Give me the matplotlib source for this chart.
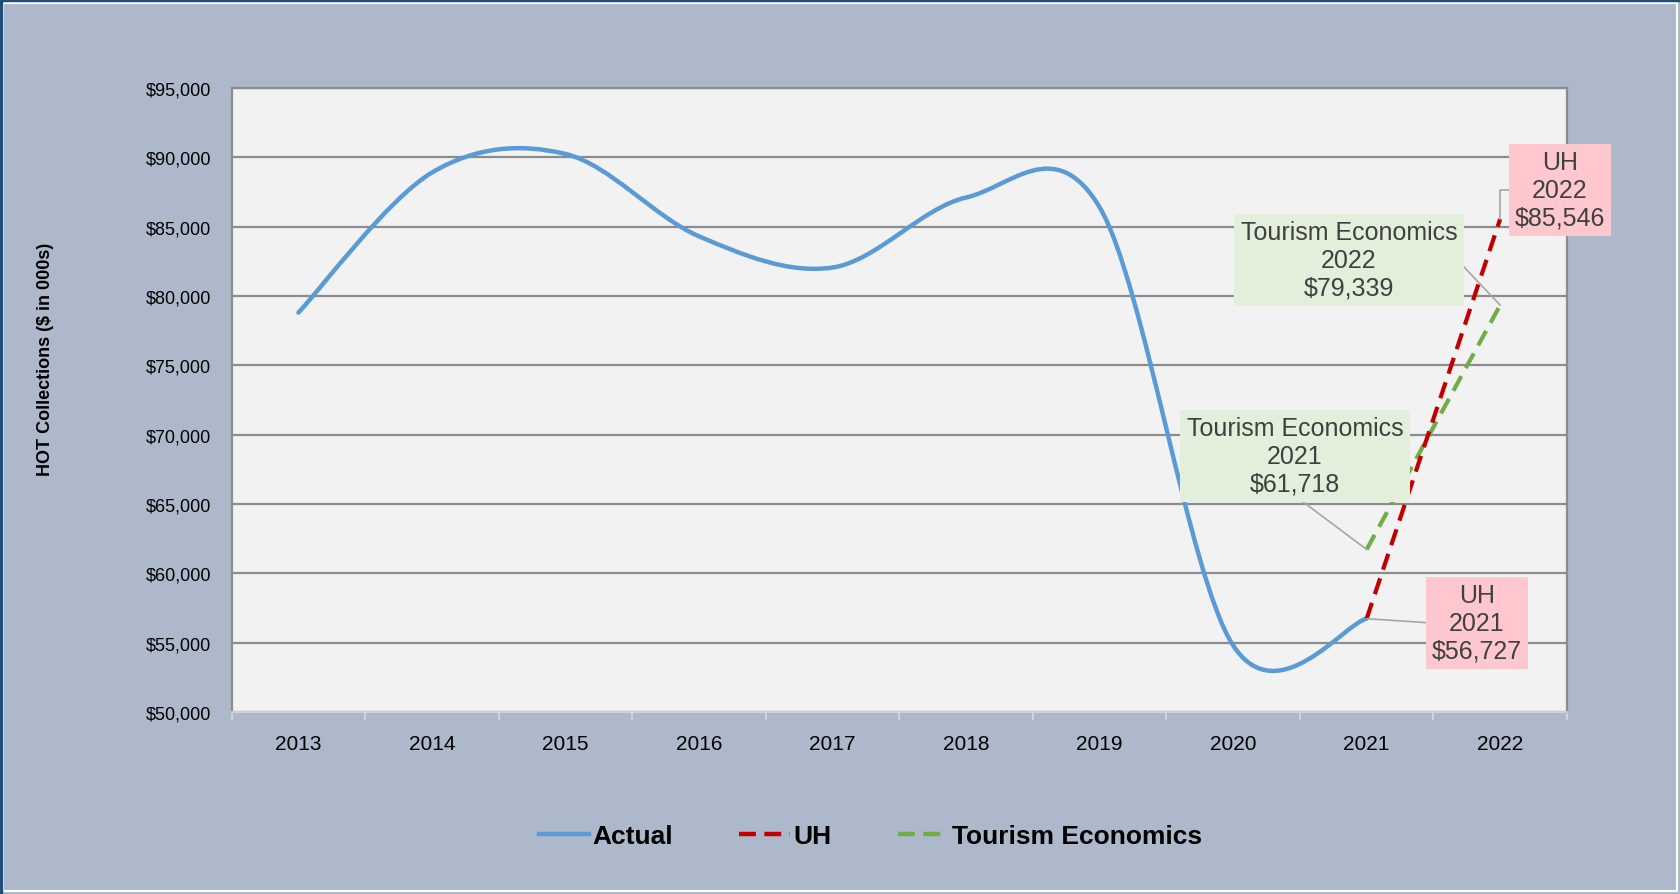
import matplotlib
matplotlib.use("Agg")
import matplotlib.pyplot as plt
from matplotlib.path import Path
from matplotlib.patches import PathPatch, Rectangle
from matplotlib.lines import Line2D

plt.rcParams["font.family"] = ["Liberation Sans", "DejaVu Sans"]

# data ($ in 000s)
years = ["2013", "2014", "2015", "2016", "2017", "2018", "2019", "2020", "2021", "2022"]
actual = [78800, 88900, 90240, 84300, 82050, 87100, 86400, 54800, 56727]
uh = [56727, 85546]
te = [61718, 79339]
forecast_years = [8, 9]  # index of 2021, 2022

BLUE = "#5B9BD5"
RED = "#C00000"
GREEN = "#70AD47"
BG = "#ADB9CA"


def smooth_path(xs, ys):
    """Excel-like smoothed line: cubic bezier segments through every point."""
    n = len(xs)
    verts = [(xs[0], ys[0])]
    codes = [Path.MOVETO]
    for i in range(n - 1):
        x0, y0 = xs[max(i - 1, 0)], ys[max(i - 1, 0)]
        x1, y1 = xs[i], ys[i]
        x2, y2 = xs[i + 1], ys[i + 1]
        x3, y3 = xs[min(i + 2, n - 1)], ys[min(i + 2, n - 1)]
        c1 = (x1 + (x2 - x0) / 6, y1 + (y2 - y0) / 6)
        c2 = (x2 - (x3 - x1) / 6, y2 - (y3 - y1) / 6)
        verts += [c1, c2, (x2, y2)]
        codes += [Path.CURVE4] * 3
    return Path(verts, codes)


fig = plt.figure(figsize=(16.8, 8.95), dpi=100, facecolor=BG)
ax = fig.add_axes([0.1379, 0.2034, 0.7948, 0.6972])
ax.set_facecolor("#F2F2F2")

# actual series (smoothed)
xs = list(range(len(actual)))
patch = PathPatch(smooth_path(xs, actual), fill=False, edgecolor=BLUE, lw=3.2,
                  capstyle="round", joinstyle="round", zorder=3)
ax.add_patch(patch)

# forecasts
ax.plot(forecast_years, te, color=GREEN, lw=3.0, dashes=(4, 2.2), zorder=4)
ax.plot(forecast_years, uh, color=RED, lw=3.0, dashes=(4, 2.2), zorder=4)

ax.set_xlim(-0.5, len(years) - 0.5)
ax.set_ylim(50000, 95000)
ax.set_yticks(range(50000, 95001, 5000))
ax.set_yticklabels([f"${v:,}" for v in range(50000, 95001, 5000)])
ax.set_xticks(range(len(years)))
ax.set_xticklabels(years)
ax.set_xticks([i - 0.5 for i in range(len(years) + 1)], minor=True)
ax.tick_params(axis="x", which="major", length=0, pad=16, labelsize=15)
ax.tick_params(axis="x", which="minor", length=6, width=1.2, color="#D9D9D9",
               direction="out")
ax.tick_params(axis="y", length=0, pad=15, labelsize=13)
ax.grid(axis="y", color="#8C8C8C", lw=1.6, zorder=1)
ax.set_axisbelow(True)
for side in ["left", "right", "top"]:
    ax.spines[side].set_color("#8C8C8C")
    ax.spines[side].set_linewidth(1.6)
ax.spines["bottom"].set_color("#D9D9D9")
ax.spines["bottom"].set_linewidth(1.2)

fig.text(0.0268, 0.598, "HOT Collections ($ in 000s)", rotation=90, ha="center",
         va="center", fontsize=13, fontweight="bold")

# data call-outs
labels = [
    (f"UH\n2022\n${uh[1]:,}", (9, uh[1]), (1560, 704), "#FFC7CE", (0, 0.5),
     "angle,angleA=0,angleB=90,rad=0"),
    (f"Tourism Economics\n2022\n${te[1]:,}", (9, te[1]), (1349, 634), "#E2EFDA", (1, 0.5),
     "arc3"),
    (f"Tourism Economics\n2021\n${te[0]:,}", (8, te[0]), (1295, 438), "#E2EFDA", (0.5, 0),
     "arc3"),
    (f"UH\n2021\n${uh[0]:,}", (8, uh[0]), (1477, 271), "#FFC7CE", (0, 0.5),
     "arc3"),
]
for text, xy, pos, color, rel, conn in labels:
    ax.annotate(text, xy=xy, xytext=pos, textcoords="figure pixels",
                ha="center", va="center", fontsize=18, color="#404040",
                linespacing=1.2, annotation_clip=False, zorder=6,
                bbox=dict(boxstyle="square,pad=0.25", fc=color, ec="none"),
                arrowprops=dict(arrowstyle="-", color="#A6A6A6", lw=1.2,
                                shrinkA=0, shrinkB=0, relpos=rel,
                                connectionstyle=conn))

handles = [
    Line2D([], [], color=BLUE, lw=3.2),
    Line2D([], [], color=RED, lw=3.2, dashes=(3.8, 1.9)),
    Line2D([], [], color=GREEN, lw=3.2, dashes=(3.8, 1.9)),
]
fig.legend(handles, ["Actual", "UH", "Tourism Economics"], loc="center",
           bbox_to_anchor=(0.518, 0.065), ncol=3, frameon=False,
           prop={"size": 19, "weight": "bold"}, handlelength=1.9,
           handletextpad=0.15, columnspacing=2.5)

# outer frame
fig.patches.append(Rectangle((0.002, 0.003), 0.996, 0.993, transform=fig.transFigure,
                             fill=False, ec="white", lw=1.5))
fig.lines.append(Line2D([0, 1], [0.999, 0.999], transform=fig.transFigure,
                        color="#1F4E79", lw=2.5))
fig.lines.append(Line2D([0.0008, 0.0008], [0, 1], transform=fig.transFigure,
                        color="#1F4E79", lw=2.5))

fig.savefig("out.png", dpi=100, facecolor=BG)
